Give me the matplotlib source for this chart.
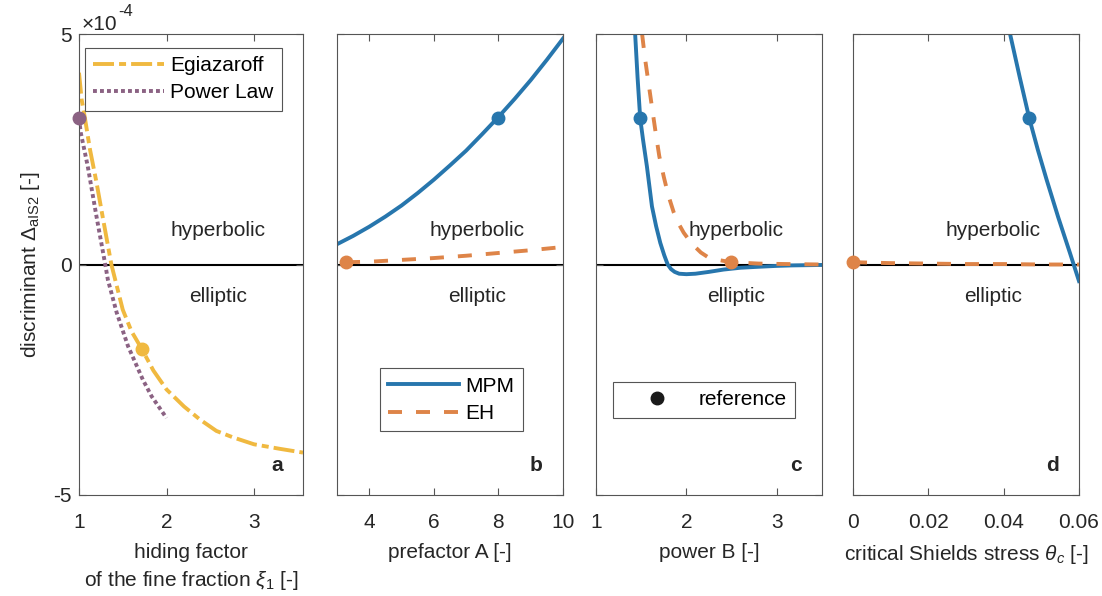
import numpy as np
import matplotlib
matplotlib.use('Agg')
import matplotlib.pyplot as plt
from matplotlib.lines import Line2D

plt.rcParams['font.family'] = ['Liberation Sans', 'DejaVu Sans']
plt.rcParams['mathtext.fontset'] = 'custom'
plt.rcParams['mathtext.rm'] = 'Liberation Sans'
plt.rcParams['mathtext.it'] = 'Liberation Sans:italic'
plt.rcParams['font.size'] = 15

# discriminant values in units of 1e-4
# panel a: hiding factor
egi_x = [1.0, 1.03, 1.07, 1.125, 1.2, 1.27, 1.37, 1.5, 1.6, 1.72, 1.85, 2.0, 2.2, 2.38, 2.57, 2.76, 3.0, 3.3, 3.56]
egi_y = [4.16, 3.58, 3.15, 2.5, 1.78, 1.04, 0.0, -0.98, -1.45, -1.84, -2.3, -2.71, -3.08, -3.36, -3.61, -3.75, -3.9, -4.0, -4.08]
pow_x = [1.0, 1.02, 1.1, 1.2, 1.3, 1.33, 1.43, 1.56, 1.73, 1.83, 2.0]
pow_y = [3.17, 2.86, 2.13, 1.04, 0.0, -0.33, -1.04, -1.77, -2.5, -2.86, -3.33]
ref_a_x = [1.0, 1.72]
ref_a_y = [3.17, -1.84]

# panel b: prefactor A
mpm_b_x = [3, 3.5, 4, 4.5, 5, 5.5, 6, 6.5, 7, 7.5, 8, 8.5, 9, 9.5, 10]
mpm_b_y = [0.44, 0.62, 0.82, 1.04, 1.28, 1.55, 1.84, 2.15, 2.47, 2.83, 3.20, 3.59, 4.00, 4.44, 4.90]
eh_b_x = [3.28, 4, 5, 6, 7, 8, 9, 10]
eh_b_y = [0.05, 0.06, 0.10, 0.14, 0.19, 0.25, 0.31, 0.38]
ref_b = {'mpm': (8.0, 3.18), 'eh': (3.28, 0.05)}

# panel c: power B
mpm_c_x = [1.433, 1.46, 1.489, 1.52, 1.563, 1.619, 1.665, 1.711, 1.755, 1.793, 1.83, 1.87, 1.92, 2.0,
           2.1, 2.25, 2.41, 2.6, 2.79, 3.0, 3.16, 3.5]
mpm_c_y = [5.0, 4.05, 3.17, 2.71, 2.13, 1.26, 0.83, 0.47, 0.2, 0.0, -0.1, -0.16, -0.2, -0.21,
           -0.2, -0.16, -0.11, -0.07, -0.05, -0.03, -0.02, -0.01]
eh_c_x = [1.51, 1.54, 1.58, 1.62, 1.66, 1.70, 1.75, 1.8, 1.86, 1.91, 1.97, 2.06, 2.16, 2.23, 2.35, 2.49,
          2.8, 3.1, 3.5]
eh_c_y = [5.0, 4.5, 3.95, 3.4, 2.86, 2.35, 1.9, 1.5, 1.13, 0.9, 0.69, 0.45, 0.26, 0.17, 0.1, 0.05,
          0.02, 0.01, 0.0]
ref_c = {'mpm': (1.489, 3.17), 'eh': (2.49, 0.05)}

# panel d: critical Shields stress
mpm_d_x = [0.0417, 0.0443, 0.0468, 0.0491, 0.0514, 0.0545, 0.0576, 0.06]
mpm_d_y = [5.0, 4.05, 3.17, 2.48, 1.84, 1.02, 0.25, -0.36]
eh_d_x = [0, 0.01, 0.02, 0.03, 0.04, 0.05, 0.06]
eh_d_y = [0.05, 0.03, 0.02, 0.01, 0.01, 0.0, 0.0]
ref_d = {'mpm': (0.0468, 3.17), 'eh': (0.0, 0.05)}

blue = '#2776ad'
orange = '#de8448'
yellow = '#f0b940'
purple = '#8b6283'
txt = '#262626'
edge = '#555555'
lw = 2.8
ms = 9

W, H = 1102, 596
fig = plt.figure(figsize=(W / 100, H / 100), dpi=100)
lefts = [79, 337, 596, 853]
widths = [224, 226, 226, 226]
axes = [fig.add_axes([l / W, 1 - 495 / H, w / W, 461 / H]) for l, w in zip(lefts, widths)]

xlims = [(1, 3.56), (3, 10), (1, 3.5), (0, 0.06)]
xticks = [[1, 2, 3], [4, 6, 8, 10], [1, 2, 3], [0, 0.02, 0.04, 0.06]]
xticklabels = [['1', '2', '3'], ['4', '6', '8', '10'], ['1', '2', '3'], ['0', '0.02', '0.04', '0.06']]
xlabels = ['hiding factor\nof the fine fraction $\\xi_1$ [-]', 'prefactor A [-]', 'power B [-]',
           'critical Shields stress $\\theta_c$ [-]']
letters = ['a', 'b', 'c', 'd']

for i, ax in enumerate(axes):
    ax.axhline(0, color='k', lw=1.5, zorder=1)
    ax.set_xlim(*xlims[i])
    ax.set_ylim(-5, 5)
    ax.set_xticks(xticks[i])
    ax.set_xticklabels(xticklabels[i])
    ax.set_yticks([-5, 0, 5])
    ax.tick_params(direction='in', top=True, right=True, length=5, width=0.8,
                   color=edge, labelcolor=txt, labelsize=15)
    ax.tick_params(axis='x', pad=13)
    ax.tick_params(axis='y', pad=5)
    if i == 0:
        ax.set_yticklabels(['-5', '0', '5'])
    else:
        ax.set_yticklabels([])
    for s in ax.spines.values():
        s.set_color(edge)
        s.set_linewidth(0.8)
    ax.set_xlabel(xlabels[i], color=txt, fontsize=15, labelpad=8, linespacing=1.4)
    ax.text(0.62, 0.573, 'hyperbolic', transform=ax.transAxes, ha='center', va='center', color=txt, fontsize=15)
    ax.text(0.62, 0.43, 'elliptic', transform=ax.transAxes, ha='center', va='center', color=txt, fontsize=15)
    ax.text(0.91, 0.065, letters[i], transform=ax.transAxes, ha='right', va='center',
            color=txt, fontsize=15, fontweight='bold')

dash_eh = (3.6, 3.6)
dash_egi = (5.4, 1.3, 1.8, 1.3)
dash_pow = (1.0, 0.8)

# panel a
ax = axes[0]
ax.plot(egi_x, egi_y, color=yellow, lw=lw, dashes=dash_egi, label='Egiazaroff')
ax.plot(pow_x, pow_y, color=purple, lw=lw, dashes=dash_pow, label='Power Law')
ax.plot(ref_a_x[0], ref_a_y[0], 'o', color=purple, ms=ms, clip_on=False, zorder=5)
ax.plot(ref_a_x[1], ref_a_y[1], 'o', color=yellow, ms=ms, clip_on=False, zorder=5)
ax.set_ylabel('discriminant $\\Delta_{\\mathrm{aIS2}}$ [-]', color=txt, fontsize=15)
ax.yaxis.set_label_coords(-0.165, 0.5)

leg_kw = dict(loc='upper left', borderaxespad=0, fancybox=False, edgecolor=edge, framealpha=1,
              handlelength=3.4, handletextpad=0.3, borderpad=0.4, labelspacing=0.4, fontsize=15)
leg = ax.legend(bbox_to_anchor=(0.027, 0.97), **leg_kw)
leg.get_frame().set_linewidth(0.8)

# panels b-d
for ax, (mx, my, ex, ey, ref) in zip(axes[1:], [(mpm_b_x, mpm_b_y, eh_b_x, eh_b_y, ref_b),
                                              (mpm_c_x, mpm_c_y, eh_c_x, eh_c_y, ref_c),
                                              (mpm_d_x, mpm_d_y, eh_d_x, eh_d_y, ref_d)]):
    ax.plot(mx, my, color=blue, lw=lw, label='MPM')
    ax.plot(ex, ey, color=orange, lw=lw, dashes=dash_eh, label='EH')
    ax.plot(*ref['mpm'], 'o', color=blue, ms=ms, clip_on=False, zorder=5)
    ax.plot(*ref['eh'], 'o', color=orange, ms=ms, clip_on=False, zorder=5)

leg = axes[1].legend(bbox_to_anchor=(0.19, 0.275), **leg_kw)
leg.get_frame().set_linewidth(0.8)

ref_handle = Line2D([], [], color='#1a1a1a', marker='o', ls='none', ms=ms)
leg = axes[2].legend([ref_handle], ['reference'], bbox_to_anchor=(0.075, 0.245), **leg_kw)
leg.get_frame().set_linewidth(0.8)

# exponent label
fig.text(82 / W, 1 - 24 / H, '\u00d710', color=txt, fontsize=15, ha='left', va='center')
fig.text(118 / W, 1 - 12 / H, '-4', color=txt, fontsize=12, ha='left', va='center')

fig.savefig('out.png', dpi=100)
